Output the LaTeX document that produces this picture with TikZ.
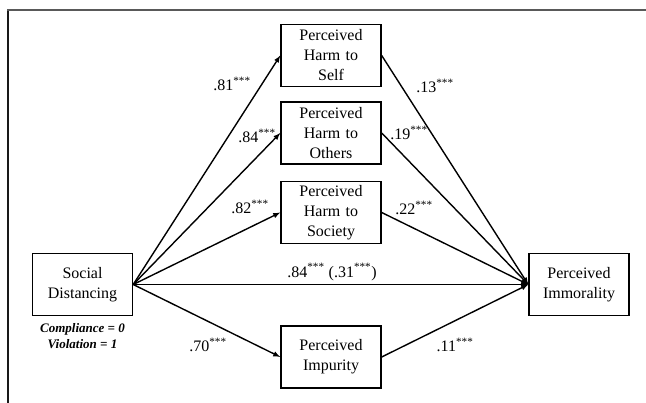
\documentclass[tikz,border=0pt]{standalone}
\usepackage{fontspec}
\setmainfont{Liberation Serif}
\usepackage{tikz}

\tikzset{
	var/.style={draw, line width=1.4pt, minimum width=100pt, minimum height=62pt, inner sep=0pt, text width=96pt, align=center, font=\fontsize{16}{20}\selectfont},
	coef/.style={inner sep=0pt, font=\fontsize{16}{19}\selectfont},
	path/.style={black, ->, line width=1.4pt},
	note/.style={inner sep=0pt, font=\fontsize{13}{15}\selectfont\bfseries\itshape}
}

\begin{document}
\begin{tikzpicture}[x=1pt, y=-1pt, >=latex]
	\useasboundingbox (0,0) rectangle (646,403);
	\draw[black!90, line width=1.4pt] (8,403) -- (8,10);
	\draw[black!65, line width=1.8pt] (7.3,10) -- (646,10);

	\node[var] (sd) at (82.5,284.5) {Social\\Distancing};
	\node[var] (self) at (331,55.5) {Perceived\\Harm to\\Self};
	\node[var] (others) at (331,133) {Perceived\\Harm to\\Others};
	\node[var] (society) at (331,212.5) {Perceived\\Harm to\\Society};
	\node[var] (impurity) at (331,357) {Perceived\\Impurity};
	\node[var] (immoral) at (579,284.5) {Perceived\\Immorality};

	\node[note] (code1) at (82.5,329) {Compliance = 0};
	\node[note] (code2) at (82.5,344) {Violation = 1};

	% a paths
	\draw[path] (sd.east) to (self.west);
	\draw[path] (sd.east) to (others.west);
	\draw[path] (sd.east) to (society.west);
	\draw[path] (sd.east) to (impurity.west);
	% b paths
	\draw[path] (self.east) to (immoral.west);
	\draw[path] (others.east) to (immoral.west);
	\draw[path] (society.east) to (immoral.west);
	\draw[path] (impurity.east) to (immoral.west);
	% c path
	\draw[path] (sd.east) to (immoral.west);

	\node[coef] (a1) at (232,84) {.81\textsuperscript{***}};
	\node[coef] (a2) at (257,136) {.84\textsuperscript{***}};
	\node[coef] (a3) at (250,207) {.82\textsuperscript{***}};
	\node[coef] (a4) at (208,345) {.70\textsuperscript{***}};
	\node[coef] (b1) at (435,86) {.13\textsuperscript{***}};
	\node[coef] (b2) at (409,133) {.19\textsuperscript{***}};
	\node[coef] (b3) at (414,208) {.22\textsuperscript{***}};
	\node[coef] (b4) at (455,345) {.11\textsuperscript{***}};
	\node[coef] (c) at (332,272) {.84\textsuperscript{***} (.31\textsuperscript{***})};
\end{tikzpicture}
\end{document}
